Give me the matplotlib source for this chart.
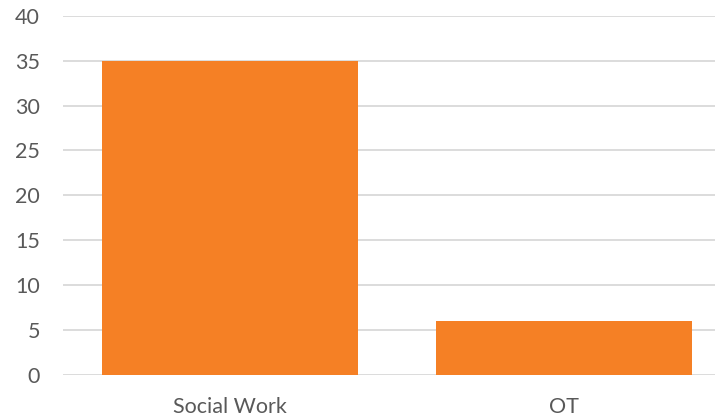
import matplotlib
matplotlib.use("Agg")
from matplotlib import pyplot as plt

categories = ['Social Work', 'OT']
values = [35, 6]
yticks = [0, 5, 10, 15, 20, 25, 30, 35, 40]

plt.rcParams['font.family'] = ['Lato', 'DejaVu Sans']

fig = plt.figure(figsize=(7.15, 4.19), dpi=100)
W, H = 715, 419
ax = fig.add_axes([63.4 / W, (H - 374.5) / H, (731 - 63.4) / W, (374.5 - 16) / H])

ax.bar(range(len(categories)), values, width=0.768, color='#F58025', zorder=3)
ax.set_xlim(-0.5, 1.5)
ax.set_ylim(0, 40)
ax.set_yticks(yticks)
ax.set_xticks(range(len(categories)))
ax.set_xticklabels(categories)
ax.yaxis.grid(True, color='#D9D9D9', linewidth=1.3, zorder=0)
ax.set_axisbelow(True)
for s in ax.spines.values():
    s.set_visible(False)
ax.tick_params(axis='both', length=0, labelsize=15.5, colors='#595959')
ax.tick_params(axis='y', pad=17)
ax.tick_params(axis='x', pad=16)

fig.savefig('out.png', dpi=100)
